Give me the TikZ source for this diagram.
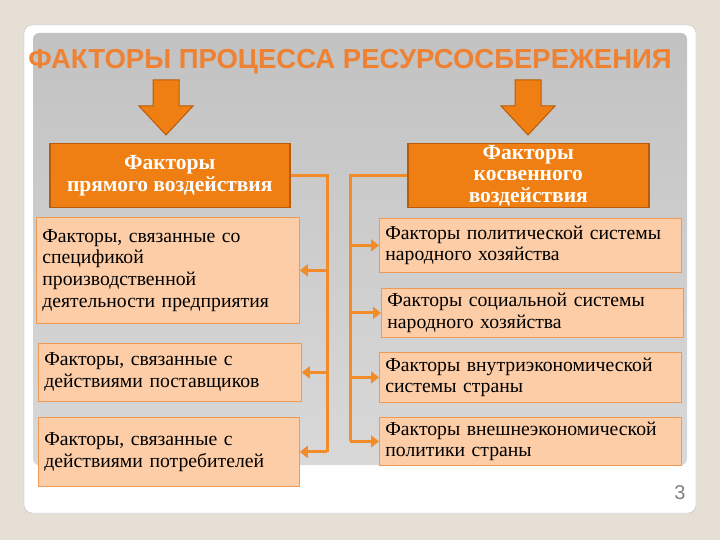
\documentclass[tikz,border=0pt]{standalone}
\usepackage{fontspec}
\setmainfont{Liberation Serif}
\newfontfamily\titlefont{Liberation Sans}
\usetikzlibrary{arrows.meta}

\definecolor{bgbeige}{HTML}{E5DFD6}
\definecolor{orangeA}{HTML}{EF7F12}
\definecolor{orangeD}{HTML}{B95C08}
\definecolor{linkorange}{HTML}{F28C28}
\definecolor{titleorange}{HTML}{EE8132}
\definecolor{peach}{HTML}{FDCDA7}
\definecolor{peachline}{HTML}{EE9A55}

\tikzset{
  headbox/.style={draw=orangeD, line width=1.5pt, fill=orangeA, text=white,
    font=\bfseries\fontsize{21.5}{21.5}\selectfont, align=center,
    inner sep=0pt, anchor=north west},
  factbox/.style={draw=peachline, line width=0.8pt, fill=peach,
    font=\fontsize{19.7}{21.7}\selectfont, align=left,
    inner xsep=6pt, inner ysep=0pt, anchor=north west},
  titletext/.style={font=\titlefont\bfseries\fontsize{27.5}{27.5}\selectfont, text=titleorange},
  blockarrow/.style={draw=orangeD, line width=1pt, fill=orangeA},
  link/.style={linkorange, line width=3pt},
  tip/.style={link, -{Triangle[width=12pt,length=8pt]}}
}

\begin{document}
\begin{tikzpicture}[x=1pt,y=-1pt]
  \useasboundingbox (0,0) rectangle (720,540);
  \fill[bgbeige] (0,0) rectangle (720,540);

  % slide card and gray panel
  \draw[black!25, fill=white, rounded corners=8pt] (24,25) rectangle (696,513);
  \shade[top color=black!24, bottom color=black!15, rounded corners=6pt] (33,33) rectangle (687,465);

  % title
  \node[titletext] (title) at (350,62) {ФАКТОРЫ ПРОЦЕССА РЕСУРСОСБЕРЕЖЕНИЯ};

  % block arrows
  \foreach \cx in {166,528} {
    \draw[blockarrow] (\cx-13,80) -- (\cx+13,80) -- (\cx+13,106) -- (\cx+27,106)
      -- (\cx,135) -- (\cx-27,106) -- (\cx-13,106) -- cycle;
  }

  % headers
  \node[headbox, minimum width=240, minimum height=64] (hl) at (49,143) {Факторы\\прямого воздействия};
  \node[headbox, minimum width=241, minimum height=64] (hr) at (407,143) {Факторы\\косвенного\\воздействия};

  % direct factors
  \foreach \n/\x/\y/\w/\h/\t in {
    1/36/217/263/106/{Факторы, связанные со\\спецификой\\производственной\\деятельности предприятия},
    2/38/343/263/58/{Факторы, связанные с\\действиями поставщиков},
    3/38/417/261/69/{Факторы, связанные с\\действиями потребителей}} {
    \pgfmathsetmacro\tw{\w-12}
    \node[factbox, minimum width=\w, minimum height=\h, text width=\tw pt] (l\n) at (\x,\y) {\t};
  }

  % indirect factors
  \foreach \n/\x/\y/\w/\h/\t in {
    1/379/218/302/54/{Факторы политической системы\\народного хозяйства},
    2/381/288/302/49/{Факторы социальной системы\\народного хозяйства},
    3/379/352/302/50/{Факторы внутриэкономической\\системы страны},
    4/379/417/302/48/{Факторы внешнеэкономической\\политики страны}} {
    \pgfmathsetmacro\tw{\w-12}
    \node[factbox, minimum width=\w, minimum height=\h, text width=\tw pt] (r\n) at (\x,\y) {\t};
  }

  % buses
  \coordinate (busL) at (327,0);
  \coordinate (busR) at (350,0);
  \draw[link] (hl.east) -| (busL |- l3.east);
  \draw[link] (hr.west) -| (busR |- r4.east);
  \foreach \n in {1,2,3}
    \draw[tip] (busL |- l\n.east) -- (l\n.east);
  \foreach \n in {1,2,3,4}
    \draw[tip] (busR |- r\n.west) -- (r\n.west);

  \node[font=\titlefont\fontsize{20}{20}\selectfont, text=black!50] (pnum) at (680,493) {3};
\end{tikzpicture}
\end{document}
